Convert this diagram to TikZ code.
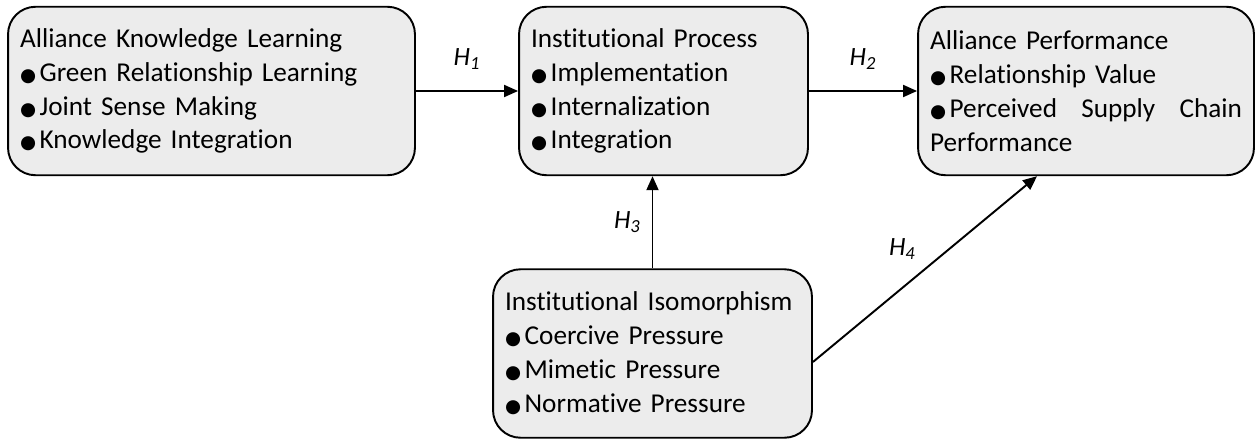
\documentclass[tikz,border=0pt]{standalone}
\usepackage{fontspec}
\setmainfont[Ligatures=NoCommon]{Carlito}
\newfontfamily\dotfont{DejaVu Sans}
\usetikzlibrary{arrows.meta}
\newcommand{\bul}{{\dotfont\fontsize{10.5}{10}\selectfont ●}\hspace{2pt}}
\tikzset{
  factor/.style={draw, line width=1.1pt, rounded corners=0.55cm, fill=gray!15,
    align=left, inner xsep=0.24cm, inner ysep=0pt, minimum height=3.37cm,
    font=\fontsize{15.5}{19.3}\selectfont},
  conn/.style={line width=1.1pt, -{Triangle[length=0.28cm,width=0.24cm]}},
  hyp/.style={font=\fontsize{15}{15}\selectfont\itshape}
}
\begin{document}
\begin{tikzpicture}[x=0.02cm,y=-0.02cm]
\useasboundingbox (0,0) rectangle (1260,439);

\node[factor, text width=7.66cm] (akl) at (211.5,91) {Alliance Knowledge Learning\\\bul Green Relationship Learning\\\bul Joint Sense Making\\\bul Knowledge Integration};
\node[factor, text width=5.30cm] (ip) at (663.5,91) {Institutional Process\\\bul Implementation\\\bul Internalization\\\bul Integration};
\node[factor, text width=6.24cm] (ap) at (1086,91) {Alliance Performance\\\bul Relationship Value\\\bul Perceived\hfill Supply\hfill Chain\\Performance};
\node[factor, text width=5.90cm] (ii) at (652.5,353.5) {Institutional Isomorphism\\\bul Coercive Pressure\\\bul Mimetic Pressure\\\bul Normative Pressure};

\draw[conn] (akl) -- (ip) node[midway, above=0.3cm, hyp] {H\textsubscript{1}};
\draw[conn] (ip) -- (ap) node[midway, above=0.3cm, hyp] {H\textsubscript{2}};
\draw[conn] (ii.north) -- (ii.north |- ip.south) node[midway, left=0.1cm, hyp] {H\textsubscript{3}};
\draw[conn] ([yshift=-0.17cm]ii.east) -- ([xshift=-0.98cm]ap.south) node[midway, above left=0.05cm, hyp] {H\textsubscript{4}};
\end{tikzpicture}
\end{document}
